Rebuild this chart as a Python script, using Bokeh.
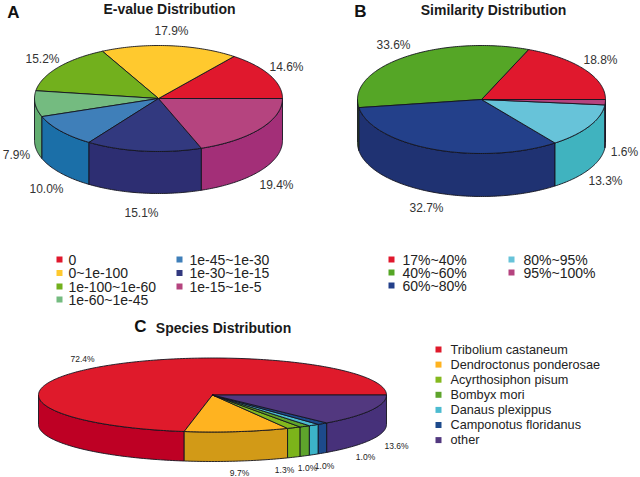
import numpy as np
from bokeh.plotting import figure
from bokeh.models import Range1d, ColumnDataSource
from bokeh.core.properties import value
from bokeh.embed import file_html
from bokeh.resources import INLINE

# ---- data
evalue_names = ["0", "0~1e-100", "1e-100~1e-60", "1e-60~1e-45", "1e-45~1e-30", "1e-30~1e-15", "1e-15~1e-5"]
evalue_share = [14.6, 17.9, 15.2, 7.9, 10.0, 15.1, 19.4]
similarity_names = ["17%~40%", "40%~60%", "60%~80%", "80%~95%", "95%~100%"]
similarity_share = [18.8, 33.6, 32.7, 13.3, 1.6]
species_names = ["Tribolium castaneum", "Dendroctonus ponderosae", "Acyrthosiphon pisum", "Bombyx mori",
                 "Danaus plexippus", "Camponotus floridanus", "other"]
species_share = [72.4, 9.7, 1.3, 1.0, 1.0, 1.0, 13.6]

# ---- colours (top, wall)
evalue_top = ["#E0182D", "#FFC92E", "#72B01D", "#74BB80", "#3F7FB9", "#32397F", "#B5447F"]
evalue_wall = ["#C00024", "#D9A020", "#5F9A18", "#62AD70", "#1B6FA8", "#2D2E72", "#A32F78"]
similarity_top = ["#E0182D", "#55A626", "#23408A", "#67C3D9", "#B5437F"]
similarity_wall = ["#C00024", "#458F20", "#1F3272", "#40B3BF", "#A32F78"]
species_top = ["#DF1A2B", "#FFB320", "#84B81E", "#5EA42C", "#4CBBD0", "#1D4A8C", "#52387F"]
species_wall = ["#BE0024", "#D29A17", "#7CB41A", "#5EA42C", "#3CB3C8", "#1D4A8C", "#47317A"]

# ---- layout, in page pixels
p = figure(width=640, height=477, x_range=Range1d(0, 640), y_range=Range1d(477, 0),
           output_backend="svg", toolbar_location=None, min_border=0)
p.axis.visible = False
p.grid.visible = False
p.outline_line_color = None
p.background_fill_color = "white"

FONT = value("Liberation Sans")
EDGE = "#14141e"


def arc(cx, cy, rx, ry, a, b, dy=0.0):
    n = max(3, int(abs(b - a)) + 2)
    t = np.radians(np.linspace(a, b, n))
    return cx + rx * np.cos(t), cy - ry * np.sin(t) + dy


def pie(shares, tops, walls, cx, cy, rx, ry, depth):
    s = np.array(shares, dtype=float)
    edges = np.concatenate([[0.0], np.cumsum(s) / s.sum() * 360.0])
    wx, wy, wc, tx, ty = [], [], [], [], []
    for a, b, wall in zip(edges[:-1], edges[1:], walls):
        lo, hi = max(a, 180.0), min(b, 360.0)
        if hi > lo:
            x0, y0 = arc(cx, cy, rx, ry, lo, hi)
            x1, y1 = arc(cx, cy, rx, ry, hi, lo, depth)
            wx.append(np.concatenate([x0, x1]).tolist())
            wy.append(np.concatenate([y0, y1]).tolist())
            wc.append(wall)
        x0, y0 = arc(cx, cy, rx, ry, a, b)
        tx.append(np.concatenate([[cx], x0]).tolist())
        ty.append(np.concatenate([[cy], y0]).tolist())
    p.patches(source=ColumnDataSource(dict(xs=wx, ys=wy, c=wc)), xs="xs", ys="ys",
              fill_color="c", line_color=EDGE, line_width=0.9)
    p.patches(source=ColumnDataSource(dict(xs=tx, ys=ty, c=list(tops))), xs="xs", ys="ys",
              fill_color="c", line_color=EDGE, line_width=0.9)


def labels(xs, ys, texts, size, color="#333333", style="normal", align="center"):
    p.text(xs, ys, text=texts, text_font=FONT, text_font_size=value(size), text_color=color,
           text_font_style=style, text_align=align, text_baseline="middle")


def pct(values):
    return [f"{v:.1f}%" for v in values]


pie(evalue_share, evalue_top, evalue_wall, 158, 98, 124, 53, 42)
pie(similarity_share, similarity_top, similarity_wall, 481, 99, 124, 54, 43)
pie(species_share, species_top, species_wall, 212, 394.5, 174, 37, 29.5)

# percentage labels
labels([286, 171, 42, 16, 46, 141, 276], [66.5, 30.5, 58, 154, 188, 212, 184], pct(evalue_share), "12px")
labels([600, 393, 426, 605, 624], [59, 44, 207, 180, 151], pct(similarity_share), "12px")
labels([82, 239, 284, 307, 324, 365, 396], [358, 472, 469, 467, 465, 456, 445], pct(species_share), "8.5px", "#222222")

# titles and panel letters
labels([169, 493, 223], [8.5, 9.5, 327],
       ["E-value Distribution", "Similarity Distribution", "Species Distribution"], "14px", "#1a1a1a", "bold")
labels([13, 360, 140], [11.5, 10.5, 326], ["A", "B", "C"], "17px", "#111111", "bold")

# legends
def legend(sx, tx, ys, names, colors, size):
    p.scatter(sx, ys, marker="square", size=6, fill_color=list(colors), line_color=None)
    labels(tx, ys, list(names), size, "#222222", align="left")


ev_y = [259, 272.5, 286, 299, 259, 272.5, 286]
ev_col = [0, 0, 0, 0, 1, 1, 1]
legend([59 + 120 * c for c in ev_col], [68 + 121 * c for c in ev_col], ev_y, evalue_names, evalue_top, "14px")

si_y = [259, 272, 285, 259, 272]
si_col = [0, 0, 0, 1, 1]
legend([391 + 120 * c for c in si_col], [402 + 121 * c for c in si_col], si_y, similarity_names, similarity_top, "14px")

sp_y = [349 + 15.1 * i for i in range(len(species_names))]
legend([438] * len(species_names), [450] * len(species_names), sp_y, species_names, species_top, "12.7px")

open("out.html", "w").write(file_html(p, INLINE))
